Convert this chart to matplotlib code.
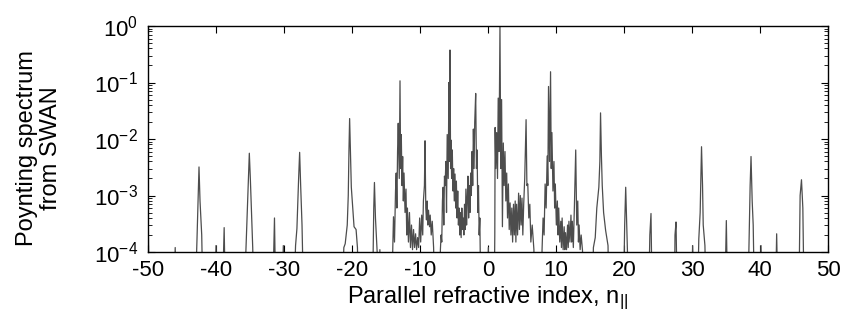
import matplotlib
matplotlib.use("Agg")
import matplotlib.pyplot as plt
from matplotlib.ticker import LogLocator, FixedLocator

plt.rcParams["font.family"] = ["Liberation Sans", "DejaVu Sans"]
plt.rcParams["mathtext.fontset"] = "custom"
plt.rcParams["mathtext.rm"] = "Liberation Sans"
plt.rcParams["mathtext.it"] = "Liberation Sans:italic"
plt.rcParams["axes.unicode_minus"] = False

# values below the bottom of the axis (off-chart floor between spikes)
F = 1e-5

# parallel refractive index (x) and Poynting spectrum (y)
n_par = [
    -50.0, -49.85,
    -46.2, -46.0, -45.8,
    -43.1, -42.8, -42.6, -42.5, -42.35, -42.1, -41.9,
    -40.2, -40.0, -39.8,
    -39.1, -38.8, -38.6,
    -35.9, -35.5, -35.25, -35.1, -34.95, -34.6, -34.4,
    -31.7, -31.4, -31.2,
    -30.3, -30.1, -29.9,
    -28.6, -28.3, -28.1, -27.85, -27.7, -27.55, -27.35, -27.1,
    -21.5, -21.2, -21.0, -20.7, -20.55, -20.45, -20.35, -20.2, -20.1, -19.9, -19.7, -19.4, -19.2, -19.0,
    -17.0, -16.8, -16.7, -16.55, -16.3, -16.1,
    -16.0, -15.9, -15.8,
    # cluster around -13 and -9
    -14.2, -13.9, -13.75, -13.6, -13.5, -13.4, -13.3, -13.2, -13.05, -12.94, -12.85, -12.75, -12.65,
    -12.55, -12.45, -12.35, -12.2, -12.06, -11.95, -11.85, -11.7, -11.55, -11.4, -11.25, -11.1,
    -10.95, -10.8, -10.65, -10.5, -10.35, -10.2, -10.05, -9.9, -9.75, -9.6, -9.5, -9.35, -9.26,
    -9.15, -9.05, -8.95, -8.85, -8.75, -8.6, -8.5, -8.35, -8.2, -8.0, -7.8,
    # cluster around -5.6 and -1.8
    -7.2, -7.0, -6.9, -6.8, -6.7, -6.6, -6.5, -6.4, -6.3, -6.2, -6.1, -6.0, -5.85, -5.75, -5.65,
    -5.59, -5.5, -5.45, -5.35, -5.25, -5.15, -5.05, -4.96, -4.85, -4.75, -4.65, -4.55, -4.45, -4.35,
    -4.25, -4.15, -4.05, -3.95, -3.85, -3.75, -3.65, -3.55, -3.45, -3.35, -3.25, -3.15, -3.05, -2.95,
    -2.85, -2.75, -2.65, -2.55, -2.45, -2.35, -2.25, -2.15, -2.05, -1.95, -1.81, -1.7, -1.6, -1.5,
    -1.4, -1.3, -1.2, -1.05,
    -0.1, 0.05, 0.2,
    # cluster around 1.8 and 5.5
    0.9, 1.0, 1.05, 1.15, 1.27, 1.4, 1.5, 1.62, 1.76, 1.88, 2.0, 2.12, 2.25, 2.37, 2.5, 2.62, 2.75,
    2.87, 3.0, 3.12, 3.25, 3.37, 3.5, 3.62, 3.75, 3.87, 4.0, 4.1, 4.2, 4.35, 4.5, 4.62, 4.75, 4.87,
    5.0, 5.12, 5.25, 5.4, 5.6, 5.72, 5.85, 6.0, 6.15, 6.3, 6.5, 6.75, 6.85,
    # cluster around 9.2 and 12.9
    7.8, 7.95, 8.1, 8.25, 8.4, 8.55, 8.7, 8.8, 8.9, 9.05, 9.2, 9.3, 9.4, 9.55, 9.7, 9.8, 9.9, 10.05,
    10.2, 10.3, 10.4, 10.55, 10.7, 10.8, 10.9, 11.05, 11.2, 11.3, 11.4, 11.55, 11.7, 11.8, 11.9,
    12.05, 12.2, 12.3, 12.4, 12.55, 12.7, 12.9, 13.05, 13.2, 13.3, 13.4, 13.55, 13.7, 13.9, 14.0,
    15.3, 15.5, 15.77, 16.0, 16.3, 16.45, 16.55, 16.68, 16.8, 17.0, 17.3, 17.65, 17.8,
    19.9, 20.1, 20.25, 20.4, 20.5, 20.7,
    23.6, 23.8, 23.97, 24.15,
    27.4, 27.5, 27.65, 27.85,
    29.9, 30.1, 30.3,
    30.8, 31.0, 31.2, 31.4, 31.55, 31.65, 31.9, 32.1,
    34.8, 35.05, 35.25,
    38.2, 38.4, 38.55, 38.68, 38.85, 39.0, 39.2,
    39.95, 40.15, 40.35,
    42.25, 42.45, 42.65,
    45.7, 45.9, 46.1, 46.3, 46.5,
    50.0,
]
power = [
    1.5e-3, F,
    F, 1.2e-4, F,
    F, 1.6e-4, 1.2e-3, 3.2e-3, 8e-4, 2e-4, F,
    F, 1.3e-4, F,
    F, 2.7e-4, F,
    F, 2.5e-4, 2e-3, 5.6e-3, 2e-3, 1.2e-4, F,
    F, 4e-4, F,
    F, 1.3e-4, F,
    F, 1.3e-4, 2.6e-4, 2e-3, 5.8e-3, 1.5e-3, 3e-4, F,
    F, 1.2e-4, 1.4e-4, 3e-4, 1e-3, 6e-3, 2.3e-2, 4e-3, 1.4e-3, 6.3e-4, 2.8e-4, 2.5e-4, 1.2e-4, F,
    F, 6e-4, 1.7e-3, 4e-4, 1e-4, F,
    F, 1.1e-4, F,
    # cluster around -13 and -9
    F, 4.2e-4, 1.5e-4, 1.2e-3, 2.5e-3, 6e-4, 6e-3, 1.9e-2, 2e-3, 0.107, 3e-3, 1.2e-2, 1.5e-3,
    4.9e-3, 8e-4, 2.5e-3, 5e-4, 1.3e-3, 2e-4, 6e-4, 1.5e-4, 5e-4, 1.2e-4, 3e-4, 1.1e-4,
    2.5e-4, 1.2e-4, 2.1e-4, 1.1e-4, 1.8e-4, 1.2e-4, 4e-4, 1.5e-4, 4.5e-4, 2e-4, 8e-4, 1.5e-3, 9.3e-3,
    6e-4, 3.7e-4, 8e-4, 3e-4, 5.5e-4, 2.8e-4, 4.5e-4, 2e-4, 3.5e-4, 1.2e-4, F,
    # cluster around -5.6 and -1.8
    F, 1.1e-4, 2e-4, 1.5e-4, 8e-4, 1.4e-3, 3e-4, 2.2e-3, 1.5e-3, 4e-3, 5e-4, 1.2e-2, 2e-3, 0.1, 4e-3,
    0.376, 3e-3, 9.6e-3, 2e-3, 6.4e-3, 1.2e-3, 3e-3, 8e-4, 2.4e-3, 6e-4, 1.8e-3, 4e-4, 1.2e-3, 3e-4,
    6e-4, 2e-4, 5e-4, 1.8e-4, 6e-4, 2.5e-4, 4e-4, 2e-4, 7e-4, 2.5e-4, 1.3e-3, 3e-4, 9e-4, 2.2e-3,
    4e-4, 1.5e-3, 5e-4, 2.5e-3, 1e-3, 6e-3, 1.5e-3, 1.5e-2, 3e-3, 2e-2, 0.064, 3e-3, 6.4e-3, 5e-4,
    1.5e-3, 2e-4, 4e-4, F,
    F, 1.2e-4, F,
    # cluster around 1.8 and 5.5
    F, 2e-4, 1.6e-2, 3e-3, 1.3e-2, 2e-3, 0.053, 6e-3, 1.0, 3e-3, 0.05, 2.8e-4, 8.5e-3, 1.5e-3, 6e-3, 8e-4, 2.5e-3,
    4e-4, 1.6e-3, 2.5e-4, 7.4e-4, 2e-4, 6e-4, 1.5e-4, 7e-4, 2e-4, 8e-4, 1.5e-4, 7e-4, 2e-4, 1.1e-3, 2.5e-4, 1e-3, 3e-4,
    9e-4, 2e-4, 7e-4, 2e-3, 2.2e-2, 1.5e-3, 1.6e-3, 4e-4, 7e-4, 1.5e-4, 3e-4, 1.1e-4, F,
    # cluster around 9.2 and 12.9
    F, 1.1e-4, 4e-4, 2e-4, 1.6e-3, 6e-4, 5e-3, 1.5e-3, 0.085, 4e-3, 0.155, 3e-3, 1.3e-2, 1.2e-3, 4e-3, 6e-4, 1.6e-3, 3e-4,
    8e-4, 2e-4, 6e-4, 1.5e-4, 3.5e-4, 1.2e-4, 4e-4, 1.1e-4, 2.8e-4, 1.1e-4, 2.2e-4, 1.1e-4, 3e-4, 1.2e-4, 3.5e-4,
    1.5e-4, 4.5e-4, 1.5e-4, 3.5e-4, 1.2e-4, 6e-4, 6.4e-3, 3e-4, 8e-4, 1.5e-4, 3e-4, 1.1e-4, 2e-4, 1.05e-4, F,
    F, 1.2e-4, 1.8e-4, 6e-4, 1.4e-3, 4e-3, 2.9e-2, 5e-3, 1.5e-3, 5e-4, 2.4e-4, 1.3e-4, F,
    F, 3e-4, 1.4e-3, 3e-4, 1.1e-4, F,
    F, 2e-4, 4.8e-4, F,
    F, 2e-4, 3.4e-4, F,
    F, 1.3e-4, F,
    F, 1.7e-4, 5e-4, 7.3e-3, 1.5e-3, 3e-4, 1.3e-4, F,
    F, 3.6e-4, F,
    F, 2e-4, 1.5e-3, 4.9e-3, 8e-4, 3e-4, F,
    F, 1.3e-4, F,
    F, 2.1e-4, F,
    F, 1e-3, 1.9e-3, 6e-4, F,
    F,
]

x_ticks = [-50, -40, -30, -20, -10, 0, 10, 20, 30, 40, 50]

fig = plt.figure(figsize=(8.43, 3.23), dpi=100)
ax = fig.add_axes([148 / 843, 1 - 252 / 323, 680 / 843, 226 / 323])

ax.plot(n_par, power, color="0.3", linewidth=0.9)

ax.set_yscale("log")
ax.set_xlim(-50, 50)
ax.set_ylim(1e-4, 1)
ax.xaxis.set_major_locator(FixedLocator(x_ticks))
ax.yaxis.set_major_locator(LogLocator(base=10, numticks=10))
ax.yaxis.set_minor_locator(LogLocator(base=10, subs=range(2, 10), numticks=20))

ax.tick_params(which="both", direction="in", top=True, right=True, labelsize=16)
ax.tick_params(which="major", length=5, width=0.8)
ax.tick_params(which="minor", length=3, width=0.6)
ax.tick_params(axis="x", pad=6)
ax.tick_params(axis="y", pad=7)
for s in ax.spines.values():
    s.set_linewidth(1.0)

ax.set_xlabel("Parallel refractive index, n$_{||}$", fontsize=17, labelpad=2)
fig.text(39 / 843, 1 - 148 / 323, "Poynting spectrum\nfrom SWAN", rotation=90,
         ha="center", va="center", multialignment="center", fontsize=17, linespacing=1.1)

fig.savefig("out.png", dpi=100)
